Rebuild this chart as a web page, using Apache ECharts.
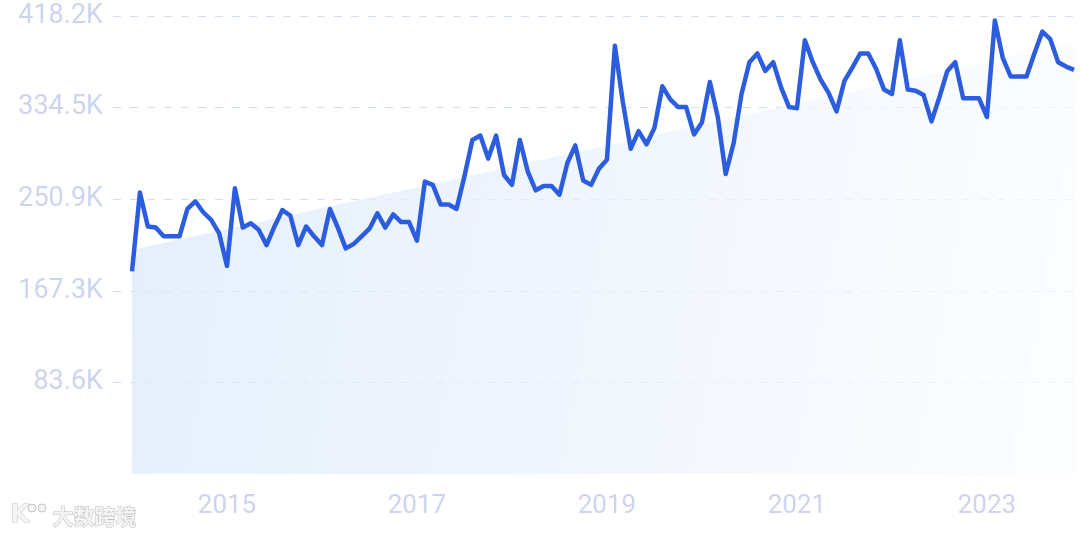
<!DOCTYPE html>
<html>
<head>
<meta charset="utf-8">
<script src="https://cdn.jsdelivr.net/npm/echarts@6/dist/echarts.min.js"></script>
<style>
html,body{margin:0;padding:0;background:#ffffff;}
#chart{width:1080px;height:539px;}
</style>
</head>
<body>
<div id="chart"></div>
<script>
// Monthly values, Jan 2014 .. Dec 2023 (index 0 = 2014-01)
const values = [
  185000, 257000, 226000, 225000, 217000, 217000, 217000, 242000, 249000, 239000, 232000, 220000,
  190000, 261000, 225000, 229000, 223000, 209000, 226000, 241000, 236000, 209000, 226000, 217000,
  209000, 242000, 225000, 206000, 210000, 217000, 224000, 238000, 225000, 237000, 230000, 230000,
  213000, 267000, 264000, 246000, 246000, 242000, 272000, 305000, 309000, 288000, 309000, 273000,
  264000, 305000, 276000, 259000, 263000, 263000, 255000, 284000, 300000, 268000, 264000, 279000,
  287000, 391000, 340000, 297000, 313000, 301000, 316000, 354000, 342000, 335000, 335000, 310000,
  321000, 358000, 326000, 274000, 302000, 347000, 376000, 384000, 368000, 376000, 353000, 335000,
  334000, 396000, 376000, 360000, 348000, 331000, 359000, 371000, 384000, 384000, 370000, 351000,
  347000, 396000, 351000, 350000, 346000, 322000, 344000, 368000, 376000, 343000, 343000, 343000,
  326000, 414000, 380000, 363000, 363000, 363000, 384000, 404000, 397000, 376000, 372000, 369000
];
// Trend line end points (month index, value)
const trendIndex = [0, 119];
const trendValues = [204500, 393800];
// X tick labels and the month index they sit on
const xTickLabels = ['2015', '2017', '2019', '2021', '2023'];
const xTickIndex = [12, 36, 60, 84, 108];
// Y axis ticks
const yInterval = 83636;
const yTickLabels = ['', '83.6K', '167.3K', '250.9K', '334.5K', '418.2K'];

const lineData = values.map((v, i) => [i, v]);
const trendData = trendIndex.map((x, i) => [x, trendValues[i]]);

const chart = echarts.init(document.getElementById('chart'), null, {renderer: 'canvas'});
const labelFont = 'Roboto, "Noto Sans", sans-serif';
chart.setOption({
  animation: false,
  backgroundColor: '#ffffff',
  grid: {left: 113, right: 6, top: 16, bottom: 65, containLabel: false},
  xAxis: {
    type: 'value',
    min: -2.4,
    max: 119,
    axisLine: {show: false},
    axisTick: {show: false},
    splitLine: {show: false},
    axisLabel: {
      customValues: xTickIndex,
      formatter: function (v) {
        const k = xTickIndex.indexOf(Math.round(v));
        return k >= 0 ? xTickLabels[k] : '';
      },
      color: '#cdd4ed',
      fontSize: 26,
      fontFamily: labelFont,
      margin: 19
    }
  },
  yAxis: {
    type: 'value',
    min: 0,
    max: yInterval * 5,
    interval: yInterval,
    axisLine: {show: false},
    axisTick: {show: false},
    axisLabel: {
      showMinLabel: false,
      formatter: function (v) {
        return yTickLabels[Math.round(v / yInterval)] || '';
      },
      color: '#cdd4ed',
      fontSize: 27,
      fontFamily: labelFont,
      margin: 10
    },
    splitLine: {
      show: true,
      showMinLine: false,
      lineStyle: {color: '#d2def1', width: 1, type: [8, 9]}
    }
  },
  series: [
    {
      type: 'line',
      data: trendData,
      symbol: 'none',
      silent: true,
      z: 1,
      lineStyle: {width: 0, opacity: 0},
      areaStyle: {
        color: new echarts.graphic.LinearGradient(0, 0, 1, 0.4, [
          {offset: 0, color: '#d9e8fa'},
          {offset: 1, color: '#fafcff'}
        ])
      }
    },
    {
      type: 'line',
      data: lineData,
      symbol: 'none',
      z: 3,
      lineStyle: {color: '#2c5ddf', width: 4.5, join: 'round'}
    }
  ],
  graphic: [
    {
      type: 'text', left: 10, top: 503, z: 10,
      style: {text: 'K', fill: '#f4f4f4', stroke: '#c4c4c4', lineWidth: 1,
              font: 'bold 24px "DejaVu Sans"'}
    },
    {
      type: 'circle', shape: {cx: 32, cy: 508, r: 4}, z: 10,
      style: {fill: '#f4f4f4', stroke: '#c4c4c4', lineWidth: 1}
    },
    {
      type: 'circle', shape: {cx: 42, cy: 508, r: 4}, z: 10,
      style: {fill: '#f4f4f4', stroke: '#c4c4c4', lineWidth: 1}
    },
    {
      type: 'text', left: 52, top: 505, z: 10,
      style: {text: '大数跨境', fill: '#f4f4f4', stroke: '#bdbdbd', lineWidth: 1,
              font: 'bold 21px "Noto Sans CJK SC"'}
    }
  ]
});
</script>
</body>
</html>
